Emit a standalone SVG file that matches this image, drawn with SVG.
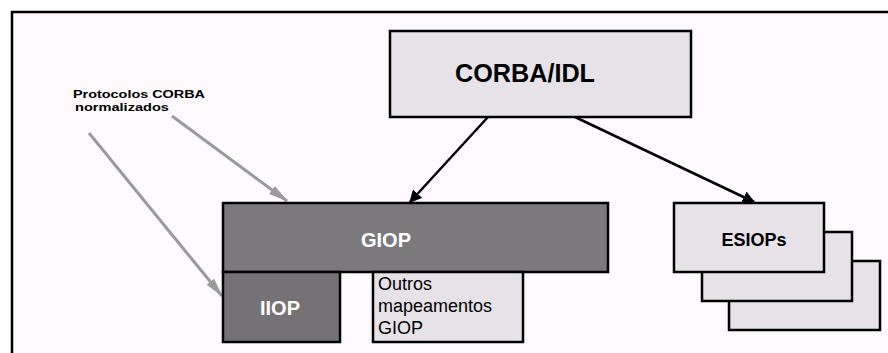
<svg xmlns="http://www.w3.org/2000/svg" width="888" height="353" viewBox="0 0 888 353">
<defs>
<style>
.box{stroke:#000;stroke-width:2.5}
.light{fill:#e6e2e8}
.dark{fill:#7c797c}
.t{font-family:"Liberation Sans",Arial,sans-serif;font-weight:bold}
.blk{stroke:#000;stroke-width:2.5;fill:none}
.gry{stroke:#9a9a9a;stroke-width:3;fill:none}
</style>
<marker id="ab" viewBox="0 0 10 10" refX="9" refY="5" markerWidth="5" markerHeight="5" orient="auto" markerUnits="strokeWidth"><path d="M0,0 L10,5 L0,10 z" fill="#000"/></marker>
<marker id="ag" viewBox="0 0 20 10" refX="19" refY="5" markerWidth="6.5" markerHeight="3.3" orient="auto" markerUnits="strokeWidth"><path d="M0,0 L20,5 L0,10 z" fill="#9a9a9a"/></marker>
</defs>
<rect width="888" height="353" fill="#fff"/>
<rect x="12" y="12" width="876" height="341" fill="#fdf9fd"/>
<path d="M12,353 V12 H888" fill="none" stroke="#000" stroke-width="2.5"/>
<g id="connectors">
<line class="blk" x1="488" y1="117" x2="410" y2="202" marker-end="url(#ab)"/>
<line class="blk" x1="575" y1="117" x2="754" y2="202" marker-end="url(#ab)"/>
<line class="gry" x1="172" y1="116" x2="287" y2="201" marker-end="url(#ag)"/>
<line class="gry" x1="89" y1="133" x2="222" y2="296" marker-end="url(#ag)"/>
</g>
<g id="label">
<text class="t" x="73" y="98" font-size="11.5" textLength="132" lengthAdjust="spacingAndGlyphs">Protocolos CORBA</text>
<text class="t" x="75" y="111" font-size="11.5" textLength="94" lengthAdjust="spacingAndGlyphs">normalizados</text>
</g>
<g id="corba">
<rect class="box light" x="390" y="31" width="301" height="86"/>
<text class="t" x="525" y="82" font-size="25" text-anchor="middle" textLength="140" lengthAdjust="spacingAndGlyphs">CORBA/IDL</text>
</g>
<g id="giop">
<rect class="box dark" x="223" y="203" width="385" height="69"/>
<text class="t" x="386" y="247" font-size="20" text-anchor="middle" fill="#fff">GIOP</text>
</g>
<g id="iiop">
<rect class="box" fill="#757275" x="223" y="272" width="117" height="70"/>
<text class="t" x="280" y="315" font-size="20" text-anchor="middle" fill="#fff">IIOP</text>
</g>
<g id="outros">
<rect class="box light" x="373" y="272" width="150" height="70"/>
<text font-family="Liberation Sans,Arial,sans-serif" font-size="18" fill="#000">
<tspan x="378" y="290">Outros</tspan>
<tspan x="378" y="312">mapeamentos</tspan>
<tspan x="378" y="334">GIOP</tspan>
</text>
</g>
<g id="esiops">
<rect class="box light" x="729" y="261" width="151" height="69"/>
<rect class="box light" x="702" y="232" width="150" height="69"/>
<rect class="box light" x="674" y="203" width="150" height="69"/>
<text class="t" x="754" y="246" font-size="18" text-anchor="middle">ESIOPs</text>
</g>
</svg>
